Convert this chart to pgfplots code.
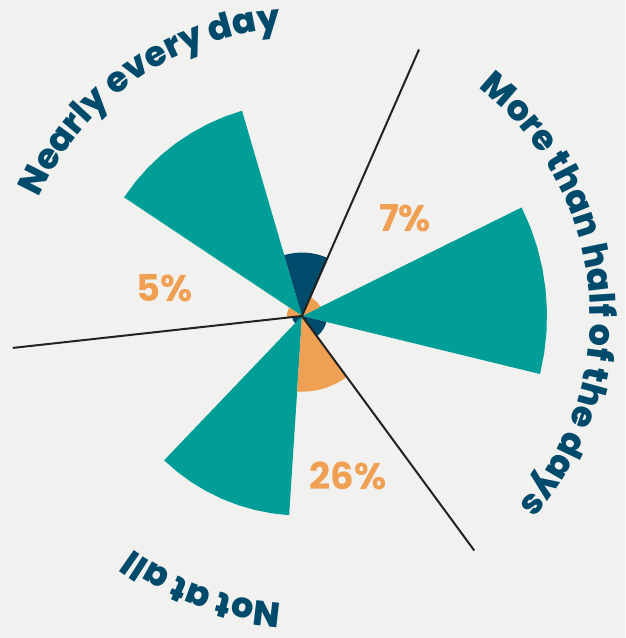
\documentclass[border=0pt]{standalone}
\usepackage{fontspec}
\setmainfont{Poppins}
\IfFontExistsTF{Poppins ExtraBold}{\newfontfamily\heavy{Poppins ExtraBold}}{\newfontfamily\heavy{Poppins Bold}[FakeBold=1.2]}
\usepackage{pgfplots}
\pgfplotsset{compat=1.18}
\usetikzlibrary{calc,decorations.text,backgrounds}
\definecolor{cteal}{HTML}{009E96}
\definecolor{cnavy}{HTML}{004B6B}
\definecolor{corange}{HTML}{F0A052}
\definecolor{cline}{HTML}{222222}
\definecolor{cbg}{HTML}{F1F1EF}
\newcommand\lbl{\fontsize{18.5}{22}\selectfont\bfseries}
\newcommand\arclbl{\fontsize{17.5}{21}\selectfont\heavy}
\begin{document}
\begin{tikzpicture}
\begin{axis}[hide axis, x=1.455pt, y=1.455pt, xmin=-103.78, xmax=111.0, ymin=-110.65, ymax=108.59, clip=false]
% teal series
\addplot[fill=cteal, draw=none, data cs=polar] coordinates {(0,0) (-13.7,84.2) (-8.7,84.2) (-3.7,84.2) (1.3,84.2) (6.3,84.2) (11.3,84.2) (16.3,84.2) (21.3,84.2) (26.3,84.2)};
\addplot[fill=cteal, draw=none, data cs=polar] coordinates {(0,0) (106.3,73.5) (111.3,73.5) (116.3,73.5) (121.3,73.5) (126.3,73.5) (131.3,73.5) (136.3,73.5) (141.3,73.5) (146.3,73.5)};
\addplot[fill=cteal, draw=none, data cs=polar] coordinates {(0,0) (226.3,68.6) (231.3,68.6) (236.3,68.6) (241.3,68.6) (246.3,68.6) (251.3,68.6) (256.3,68.6) (261.3,68.6) (266.3,68.6)};
% orange series
\addplot[fill=corange, draw=none, data cs=polar] coordinates {(0,0) (26.3,7) (31.3,7) (36.3,7) (41.3,7) (46.3,7) (51.3,7) (56.3,7) (61.3,7) (66.3,7)};
\addplot[fill=corange, draw=none, data cs=polar] coordinates {(0,0) (146.3,5.2) (151.3,5.2) (156.3,5.2) (161.3,5.2) (166.3,5.2) (171.3,5.2) (176.3,5.2) (181.3,5.2) (186.3,5.2)};
\addplot[fill=corange, draw=none, data cs=polar] coordinates {(0,0) (266.3,26) (271.3,26) (276.3,26) (281.3,26) (286.3,26) (291.3,26) (296.3,26) (301.3,26) (306.3,26)};
% navy series
\addplot[fill=cnavy, draw=none, data cs=polar] coordinates {(0,0) (66.3,21.8) (71.3,21.8) (76.3,21.8) (81.3,21.8) (86.3,21.8) (91.3,21.8) (96.3,21.8) (101.3,21.8) (106.3,21.8)};
\addplot[fill=cnavy, draw=none, data cs=polar] coordinates {(0,0) (186.3,3.4) (191.3,3.4) (196.3,3.4) (201.3,3.4) (206.3,3.4) (211.3,3.4) (216.3,3.4) (221.3,3.4) (226.3,3.4)};
\addplot[fill=cnavy, draw=none, data cs=polar] coordinates {(0,0) (306.3,8.6) (311.3,8.6) (316.3,8.6) (321.3,8.6) (326.3,8.6) (331.3,8.6) (336.3,8.6) (341.3,8.6) (346.3,8.6)};
% separators
\addplot[cline, line width=1pt, data cs=polar] coordinates {(0,0) (66.3,100)};
\addplot[cline, line width=1pt, data cs=polar] coordinates {(0,0) (186.3,100)};
\addplot[cline, line width=1pt, data cs=polar] coordinates {(0,0) (306.3,100)};
\coordinate (O) at (axis cs:0,0);
\coordinate (SW) at (rel axis cs:0,0);
\coordinate (NE) at (rel axis cs:1,1);
\node[text=corange, font=\lbl] at (axis cs:35.4,33.7) {7\%};
\node[text=corange, font=\lbl] at (axis cs:-47.1,9.6) {5\%};
\node[text=corange, font=\lbl] at (axis cs:15.8,-55.0) {26\%};
\end{axis}
\begin{scope}[on background layer]
\fill[cbg] (SW) rectangle (NE);
\end{scope}
\path[decorate, decoration={text along path, text={|\arclbl\color{cnavy}|Nearly every day}, text align=center}] ($(O)+(185:144pt)$) arc[start angle=185, end angle=65, radius=144pt];
\path[decorate, decoration={text along path, text={|\arclbl\color{cnavy}|More than half of the days}, text align=center}] ($(O)+(65.5:144pt)$) arc[start angle=65.5, end angle=-54.5, radius=144pt];
\path[decorate, decoration={text along path, text={|\arclbl\color{cnavy}|Not at all}, text align=center}] ($(O)+(310:144pt)$) arc[start angle=310, end angle=190, radius=144pt];
\pgfresetboundingbox
\path[use as bounding box] (SW) rectangle (NE);
\end{tikzpicture}
\end{document}
